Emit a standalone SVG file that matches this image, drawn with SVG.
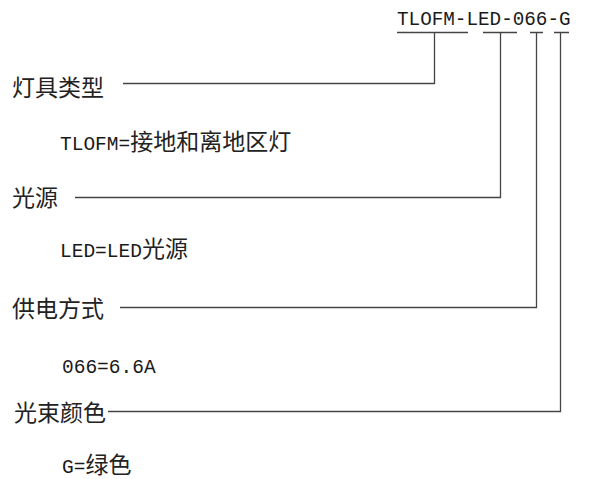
<svg xmlns="http://www.w3.org/2000/svg" width="594" height="479" viewBox="0 0 594 479">
<style>
.cjk{font-family:"Noto Sans CJK SC","Noto Sans",sans-serif;font-size:23px;fill:#222}
.lat{font-family:"Liberation Mono",monospace;font-size:19.5px;fill:#1a1a1a}
.ln{fill:none;stroke:#444;stroke-width:1.3}
</style>
<rect width="594" height="479" fill="#fff"/>
<g id="code"><text class="lat" x="397" y="25" style="font-size:19.3px">TLOFM-LED-066-G</text></g>
<g id="type"><text class="cjk" x="12" y="96">灯具类型</text>
<text class="cjk" x="60" y="150"><tspan class="lat">TLOFM=</tspan>接地和离地区灯</text></g>
<g id="source"><text class="cjk" x="12" y="206">光源</text>
<text class="cjk" x="60" y="257"><tspan class="lat">LED=LED</tspan>光源</text></g>
<g id="power"><text class="cjk" x="12" y="317">供电方式</text>
<text class="lat" x="62" y="373">066=6.6A</text></g>
<g id="color"><text class="cjk" x="14" y="421">光束颜色</text>
<text class="cjk" x="62" y="473"><tspan class="lat">G=</tspan>绿色</text></g>
<g id="connectors">
<path class="ln" d="M397 32.5H468M123 83.5H434.5V32.5"/>
<path class="ln" d="M483 32.5H517M75 197.5H500.5V32.5"/>
<path class="ln" d="M530 32.5H543M120 307.5H536.5V32.5"/>
<path class="ln" d="M554 32.5H569M108 411.5H560.5V32.5"/>
</g>
</svg>
